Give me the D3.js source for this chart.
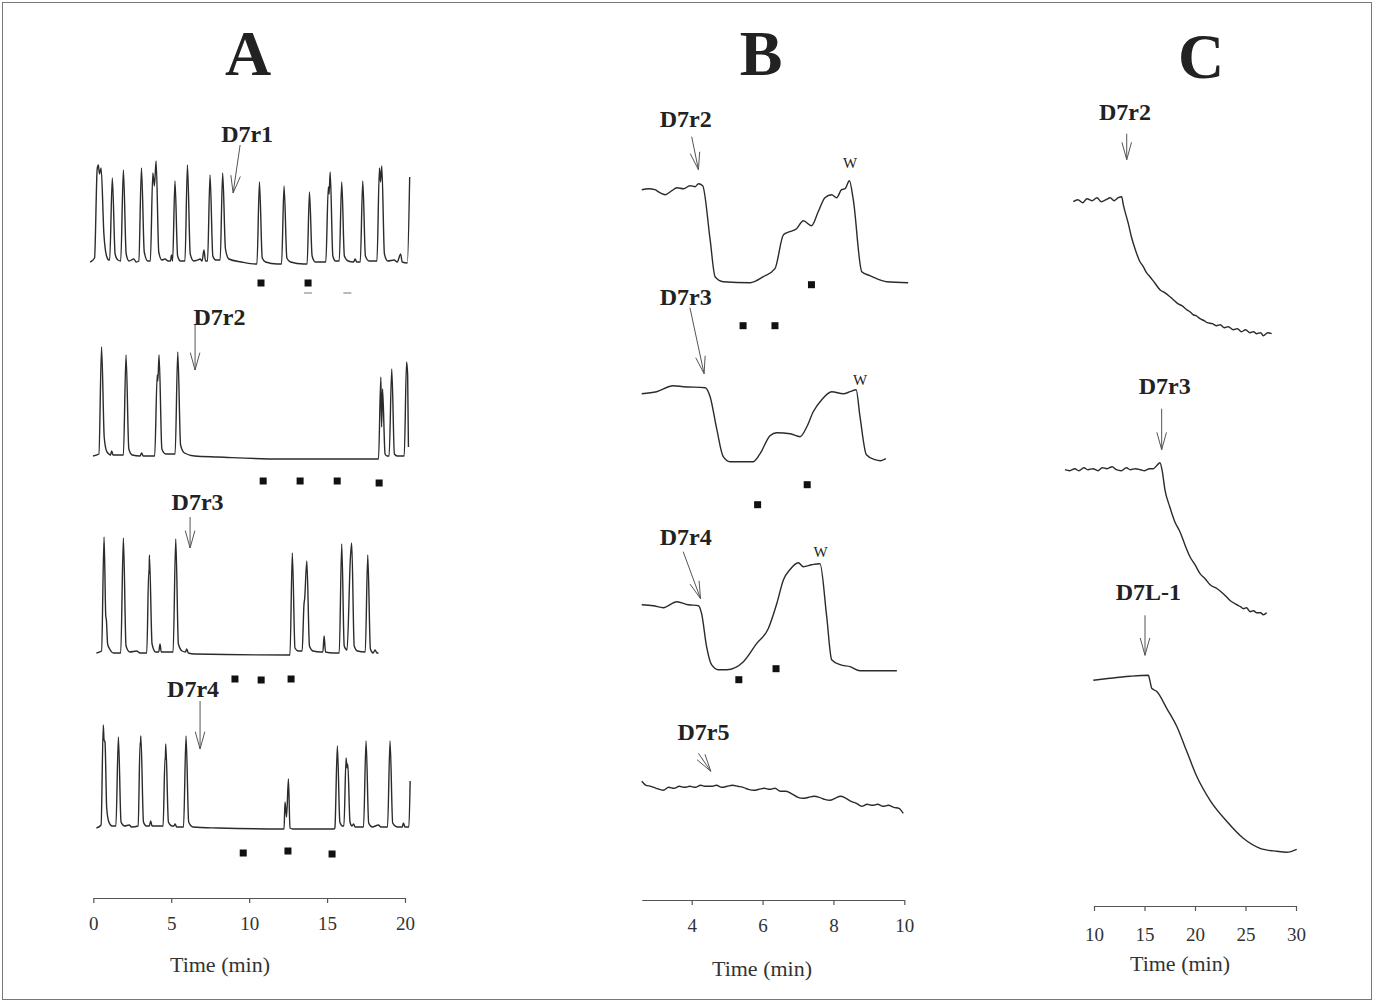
<!DOCTYPE html>
<html lang="en">
<head>
<meta charset="UTF-8">
<title>D7 peptide traces</title>
<script src="https://d3js.org/d3.v7.min.js"></script>
<style>
  body { margin: 0; background: #fff; }
  svg text { font-family: "Liberation Serif", "Times New Roman", serif; fill: #222; }
  .trace { fill: none; stroke: #2b2b2b; stroke-width: 1.4; stroke-linejoin: round; }
  .arrow { fill: none; stroke: #555; stroke-width: 1; }
  .lbl { font-weight: bold; font-size: 24px; }
  .title { font-weight: bold; font-size: 64px; }
  .wlbl { font-size: 15px; }
  .axis path, .axis line { stroke: #555; stroke-width: 1.2; }
  .axis text { font-size: 19px; fill: #333; }
  .xlab { font-size: 22px; fill: #333; }
</style>
</head>
<body>
<svg id="fig" width="1374" height="1003"></svg>
<script>
// ---- data: [time (min), signal above baseline (a.u.)] ----
const traceA1 = [[-0.2,2],[0.08,6],[0.25,95],[0.32,99],[0.4,90],[0.5,96],[0.68,30],[0.85,8],[1.0,4],
  [1.05,4],[1.22,86],[1.4,10],[1.58,4],[1.76,3],[1.93,94],[2.11,10],[2.3,3],[2.6,5],[2.75,2],
  [2.92,3],[3.09,96],[3.27,12],[3.5,3],[3.66,3],[3.82,91],[3.92,78],[4.03,103],[4.2,12],[4.4,4],[4.6,5],[4.8,3],
  [4.95,3],[5.02,9],[5.09,3],[5.24,83],[5.41,8],[5.6,3],[5.88,3],[6.04,99],[6.22,10],[6.45,3],[6.7,4],
  [6.85,5],[6.98,3],[7.1,14],[7.2,3],[7.33,3],[7.49,89],[7.67,8],[7.85,4],[8.14,4],[8.3,91],[8.48,15],[8.7,5],[9.5,2],[10.4,0],
  [10.5,0],[10.66,82],[10.84,6],[11.05,2],[11.8,0],[12.08,0],[12.24,78],[12.42,6],[12.65,2],[13.5,0],
  [13.72,0],[13.87,72],[14.04,8],[14.25,2],[14.92,2],[15.08,77],[15.13,70],[15.2,92],[15.37,8],[15.55,3],
  [15.78,3],[15.94,82],[16.11,8],[16.35,3],[16.7,2],[16.8,5],[16.9,2],[17.13,2],[17.29,83],[17.46,8],[17.7,3],
  [18.2,3],[18.36,96],[18.43,82],[18.51,98],[18.68,10],[18.9,3],[19.3,4],[19.5,2],[19.72,10],[19.82,2],[20.15,1],[20.3,87]];
const traceA2 = [[-0.02,1],[0.36,3],[0.53,110],[0.7,20],[0.85,6],[1.0,3],[1.1,2],[1.18,6],[1.27,2],
  [1.93,2],[2.1,102],[2.28,8],[2.5,2],[3.0,1],[3.1,4],[3.2,1],
  [3.94,1],[4.1,82],[4.14,76],[4.22,102],[4.4,8],[4.65,3],
  [5.25,3],[5.42,105],[5.6,12],[5.85,4],[6.5,1],[8,0],[12,-2],[18.25,-2],
  [18.3,-2],[18.45,80],[18.5,30],[18.56,68],[18.72,3],[18.85,1],[18.98,1],[19.15,88],[19.32,3],[19.5,1],
  [19.95,1],[20.1,95],[20.17,82],[20.22,10]];
const traceA3 = [[0.2,1],[0.53,3],[0.69,117],[0.8,38],[0.84,34],[0.92,10],[1.05,5],[1.3,1],
  [1.76,1],[1.93,116],[2.1,8],[2.35,2],[2.78,3],[3.0,1],[3.43,1],[3.56,84],[3.58,80],[3.6,99],[3.77,10],[4.0,2],
  [4.2,2],[4.28,10],[4.36,2],[5.12,2],[5.29,115],[5.46,10],[5.7,3],[5.92,2],[5.99,5],[6.1,1],[6.5,0],[12.56,-1],
  [12.62,-1],[12.77,101],[12.94,6],[13.15,3],[13.4,3],[13.52,50],[13.56,55],[13.7,93],[13.87,8],[14.1,3],[14.6,2],
  [14.73,2],[14.81,18],[14.9,2],[15.4,1],[15.78,1],[15.94,110],[16.1,8],[16.28,4],[16.5,97],[16.58,111],[16.74,8],[16.95,3],
  [17.45,2],[17.61,99],[17.78,5],[17.95,1],[18.08,4],[18.2,1],[18.3,1]];
const traceA4 = [[0.2,0],[0.5,3],[0.64,103],[0.69,88],[0.75,86],[0.86,20],[1.0,6],[1.2,2],
  [1.45,2],[1.61,91],[1.78,6],[2.0,2],[2.31,3],[2.45,1],[2.88,2],[3.0,85],[3.02,82],[3.05,92],[3.22,6],[3.4,2],
  [3.6,2],[3.68,7],[3.77,2],[4.48,2],[4.6,70],[4.62,68],[4.65,84],[4.82,6],[5.05,2],[5.17,2],[5.25,4],[5.35,1],
  [5.79,1],[5.95,92],[6.12,6],[6.4,1],[8,0],[12.2,-1],[12.24,-1],[12.3,26],[12.4,11],[12.52,49],[12.62,0],[12.8,-1],[15.45,-1],
  [15.5,0],[15.66,82],[15.82,6],[15.98,2],[16.08,2],[16.22,70],[16.28,60],[16.33,64],[16.47,6],[16.6,2],[16.7,4],[16.8,1],
  [17.34,1],[17.5,87],[17.67,5],[17.9,1],[18.3,3],[18.45,1],[18.88,1],[19.04,87],[19.21,5],[19.5,1],
  [19.82,1],[19.9,5],[20.0,1],[20.25,1],[20.33,47]];

const traceB1 = [[2.59,93],[2.78,94],[2.96,93],[3.1,90],[3.25,88],[3.44,92],[3.58,95],[3.77,94],[3.95,97],[4.1,96],[4.19,99],[4.31,97],
  [4.52,43],[4.66,6],[4.89,1],[5.65,0],[6.02,6],[6.35,14],[6.59,48],[6.77,51],[6.96,54],[7.15,62],[7.38,57],[7.57,71],
  [7.76,85],[7.95,88],[8.09,85],[8.23,93],[8.33,94],[8.45,102],[8.56,83],[8.8,11],[9.03,7],[9.22,4],[9.5,1],[10.11,0]];
const traceB2 = [[2.59,68],[3.01,70],[3.48,76],[3.76,75],[4.38,74],[4.52,65],[4.71,32],[4.89,5],[5.08,0],[5.74,0],
  [5.93,8],[6.21,26],[6.4,29],[6.78,28],[7.06,25],[7.25,35],[7.43,50],[7.67,62],[7.95,70],[8.28,68],[8.47,70],[8.64,72],
  [8.75,45],[8.93,7],[9.17,2],[9.33,1],[9.48,3]];
const traceB3 = [[2.59,66],[2.92,65],[3.2,63],[3.58,69],[3.9,66],[4.19,65],[4.28,57],[4.42,24],[4.56,6],[4.75,1],[4.99,1],
  [5.46,9],[5.83,27],[6.16,42],[6.4,67],[6.59,91],[6.77,101],[7.01,108],[7.15,104],[7.39,106],[7.62,107],[7.81,54],
  [7.95,11],[8.19,6],[8.47,4],[8.75,0],[9.79,0]];
const traceB4 = [[2.59,32],[2.71,28],[2.85,27],[3.0,25],[3.2,23],[3.35,26],[3.5,25],[3.65,27],[3.8,26],[3.95,27],[4.1,26],
  [4.25,28],[4.4,27],[4.55,27],[4.7,28],[4.85,26],[5.0,27],[5.15,28],[5.3,27],[5.45,26],[5.6,24],[5.75,23],[5.9,24],
  [6.05,25],[6.2,24],[6.35,25],[6.5,22],[6.65,22],[6.8,20],[7.0,16],[7.15,15],[7.3,16],[7.45,17],[7.6,16],[7.75,14],
  [7.9,13],[8.05,15],[8.2,17],[8.35,15],[8.5,12],[8.65,10],[8.8,7],[8.95,9],[9.1,8],[9.25,9],[9.4,7],[9.55,8],[9.7,6],[9.85,5],[9.97,0]];

const traceC1 = [[7.95,135],[8.4,137],[8.9,134],[9.3,138],[9.8,136],[10.3,139],[10.7,135],[11.2,137],[11.6,139],[12.0,136],
  [12.4,139],[12.74,140],
  [12.9,132],[13.4,113],[13.7,100],[14.06,88],[14.5,76],[14.88,70],[15.2,64],[15.54,60],[16.0,54],[16.53,47],[17.0,44],
  [17.4,41],[17.85,37],[18.3,33],[18.7,31],[19.18,27],[19.5,25],[19.8,22],[20.1,21],[20.5,18],[20.9,16],[21.2,14],[21.7,13],
  [22.15,11],[22.5,12],[22.9,9],[23.3,10],[23.79,7],[24.2,8],[24.6,5],[25.0,7],[25.45,4],[25.8,5],[26.1,3],[26.5,4],[26.76,1],[27.2,4],[27.59,3]];
const traceC2 = [[7.13,147],[7.6,146],[8.1,148],[8.5,146],[9.0,149],[9.4,147],[9.9,148],[10.4,146],[10.8,149],[11.3,148],
  [11.8,150],[12.2,147],[12.7,146],[13.2,149],[13.6,147],[14.1,148],[14.6,147],[15.0,146],[15.5,148],
  [15.87,148],[16.2,151],[16.53,154],[16.75,146],[17.02,127],[17.5,110],[18.0,95],[18.51,85],[19.0,72],[19.5,60],
  [20.0,52],[20.5,43],[21.0,38],[21.49,32],[22.2,28],[22.8,23],[23.5,16],[24.13,12],[24.5,10],[24.8,8],[25.1,9],[25.45,5],
  [25.8,6],[26.1,4],[26.5,4],[26.76,2],[27.1,4]];
const traceC3 = [[9.93,173],[11.58,175],[13.56,177],[15.38,178],[15.55,172],[15.71,165],[16.2,162],[17.2,145],[18.19,127],
  [19.18,102],[20.17,77],[21.49,53],[23.14,32],[24.78,15],[26.44,5],[28.09,2],[29.08,1],[30.07,4]];

// drug marks (filled squares) and small dashes, [time, signal]
const marksA1 = [[10.76,-19],[13.78,-19]];
const dashA1 = [[13.78,-29],[16.3,-29]];
const marksA2 = [[10.9,-24],[13.27,-24],[15.65,-24],[18.34,-26]];
const marksA3 = [[9.09,-25],[10.77,-26],[12.69,-25]];
const marksA4 = [[9.62,-25],[12.49,-23],[15.32,-26]];
const marksB1 = [[7.38,-2],[5.45,-43],[6.35,-43]];
const marksB2 = [[7.26,-23],[5.86,-43]];
const marksB3 = [[5.33,-9],[6.38,2]];

// injection arrows: tail (t0,v0) -> tip (t1,v1), label at (lt,lv)
const arrowsA = [
  {label: "D7r1", t0: 9.42, v0: 119, t1: 8.97, v1: 71, lt: 9.87, lv: 122},
  {label: "D7r2", t0: 6.53, v0: 132, t1: 6.53, v1: 87, lt: 8.1, lv: 132},
  {label: "D7r3", t0: 6.21, v0: 137, t1: 6.21, v1: 106, lt: 6.69, lv: 144},
  {label: "D7r4", t0: 6.85, v0: 127, t1: 6.85, v1: 79, lt: 6.4, lv: 131}
];
const arrowsB = [
  {label: "D7r2", t0: 4.0, v0: 146, t1: 4.19, v1: 113, lt: 3.83, lv: 156},
  {label: "D7r3", t0: 3.95, v0: 154, t1: 4.35, v1: 88, lt: 3.83, lv: 157},
  {label: "D7r4", t0: 3.76, v0: 119, t1: 4.25, v1: 72, lt: 3.83, lv: 126},
  {label: "D7r5", t0: 4.19, v0: 60, t1: 4.54, v1: 42, lt: 4.33, lv: 73}
];
const arrowsC = [
  {label: "D7r2", t0: 13.24, v0: 203, t1: 13.24, v1: 177, lt: 13.07, lv: 217},
  {label: "D7r3", t0: 16.7, v0: 208, t1: 16.7, v1: 167, lt: 17.0, lv: 223},
  {label: "D7L-1", t0: 15.05, v0: 238, t1: 15.05, v1: 198, lt: 15.38, lv: 253}
];
// washout labels, [time, signal]
const washB = [[8.47,115],[8.75,77],[7.64,114]];

const ticksA = [0, 5, 10, 15, 20];
const ticksB = [4, 6, 8, 10];
const ticksC = [10, 15, 20, 25, 30];
const titles = ["A", "B", "C"];

// ---- layout ----
const svg = d3.select("#fig");
svg.append("rect").attr("x", 2.5).attr("y", 2.5).attr("width", 1369).attr("height", 997)
  .attr("fill", "none").attr("stroke", "#777").attr("stroke-width", 1);

const xA = d3.scaleLinear().domain([0, 20]).range([93.3, 405]);
const xB = d3.scaleLinear().domain([4, 10]).range([691.7, 904.3]);
const xC = d3.scaleLinear().domain([10, 30]).range([1094, 1296]);

const panels = [
  {x: xA, title: titles[0], tx: 248, ty: 75, axisY: 898, axisStart: 0, ticks: ticksA, pad: 14, labX: 220, labY: 972,
   rows: [
     {data: traceA1, base: 264, marks: marksA1, dashes: dashA1, arrow: arrowsA[0]},
     {data: traceA2, base: 457, marks: marksA2, arrow: arrowsA[1]},
     {data: traceA3, base: 654, marks: marksA3, arrow: arrowsA[2]},
     {data: traceA4, base: 828, marks: marksA4, arrow: arrowsA[3]}
   ]},
  {x: xB, title: titles[1], tx: 761, ty: 75, axisY: 900, axisStart: 2.59, ticks: ticksB, pad: 14, labX: 762, labY: 976,
   rows: [
     {data: traceB1, base: 282.7, marks: marksB1, arrow: arrowsB[0], w: washB[0]},
     {data: traceB2, base: 461.7, marks: marksB2, arrow: arrowsB[1], w: washB[1]},
     {data: traceB3, base: 670.7, marks: marksB3, arrow: arrowsB[2], w: washB[2]},
     {data: traceB4, base: 813.3, marks: [], arrow: arrowsB[3]}
   ]},
  {x: xC, title: titles[2], tx: 1201, ty: 78, axisY: 906, axisStart: 10, ticks: ticksC, pad: 17, labX: 1180, labY: 971,
   rows: [
     {data: traceC1, base: 336.7, marks: [], arrow: arrowsC[0]},
     {data: traceC2, base: 616.7, marks: [], arrow: arrowsC[1]},
     {data: traceC3, base: 853.3, marks: [], arrow: arrowsC[2]}
   ]}
];

function arrowPath(x0, y0, x1, y1) {
  const ang = Math.atan2(y1 - y0, x1 - x0);
  const len = 18, spread = 0.27;
  const bx1 = x1 - len * Math.cos(ang - spread), by1 = y1 - len * Math.sin(ang - spread);
  const bx2 = x1 - len * Math.cos(ang + spread), by2 = y1 - len * Math.sin(ang + spread);
  return `M${x0},${y0}L${x1},${y1}M${bx1},${by1}L${x1},${y1}L${bx2},${by2}`;
}

panels.forEach(p => {
  const g = svg.append("g");
  g.append("text").attr("class", "title").attr("x", p.tx).attr("y", p.ty)
    .attr("text-anchor", "middle").text(p.title);

  p.rows.forEach(r => {
    const y = d3.scaleLinear().domain([0, 100]).range([r.base, r.base - 100]);
    const line = d3.line().curve(d3.curveMonotoneX).x(d => p.x(d[0])).y(d => y(d[1]));
    g.append("path").attr("class", "trace").attr("d", line(r.data));

    g.selectAll(null).data(r.marks).enter().append("rect")
      .attr("x", d => p.x(d[0]) - 3.5).attr("y", d => y(d[1]) - 3.5)
      .attr("width", 7).attr("height", 7).attr("fill", "#111");

    if (r.dashes) {
      g.selectAll(null).data(r.dashes).enter().append("line")
        .attr("x1", d => p.x(d[0]) - 4).attr("x2", d => p.x(d[0]) + 4)
        .attr("y1", d => y(d[1])).attr("y2", d => y(d[1]))
        .attr("stroke", "#777").attr("stroke-width", 1);
    }

    const a = r.arrow;
    g.append("path").attr("class", "arrow")
      .attr("d", arrowPath(p.x(a.t0), y(a.v0), p.x(a.t1), y(a.v1)));
    g.append("text").attr("class", "lbl").attr("x", p.x(a.lt)).attr("y", y(a.lv))
      .attr("text-anchor", "middle").text(a.label);

    if (r.w) {
      g.append("text").attr("class", "wlbl").attr("x", p.x(r.w[0])).attr("y", y(r.w[1]))
        .attr("text-anchor", "middle").text("W");
    }
  });

  const xs = p.x.copy().domain([p.axisStart, p.x.domain()[1]])
    .range([p.x(p.axisStart), p.x.range()[1]]);
  g.append("g").attr("class", "axis").attr("transform", `translate(0,${p.axisY})`)
    .call(d3.axisBottom(xs).tickValues(p.ticks).tickFormat(d3.format("d"))
      .tickSize(5).tickSizeOuter(0).tickPadding(p.pad));
  g.append("text").attr("class", "xlab").attr("x", p.labX).attr("y", p.labY)
    .attr("text-anchor", "middle").text("Time (min)");
});
</script>
</body>
</html>
